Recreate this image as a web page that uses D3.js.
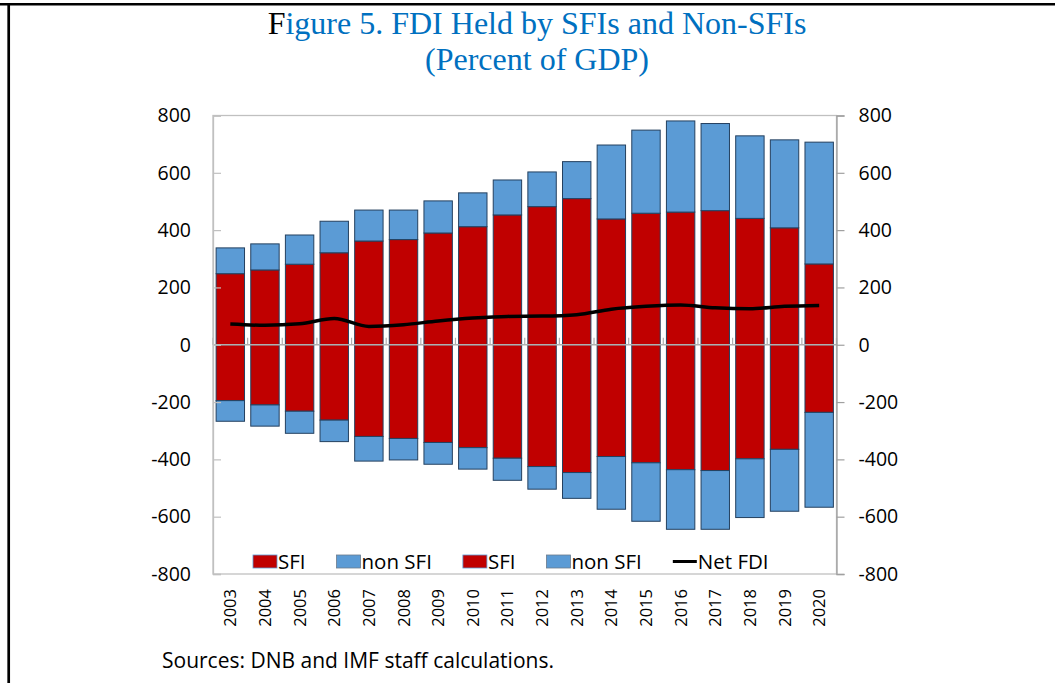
<!DOCTYPE html>
<html>
<head>
<meta charset="utf-8">
<script src="https://d3js.org/d3.v7.min.js"></script>
<style>
body { margin: 0; background: #fff; }
text { font-family: "Open Sans", "Noto Sans", sans-serif; fill: #000; }
</style>
</head>
<body>
<svg id="chart" width="1055" height="683"></svg>
<script>
// values (percent of GDP)
var years = ["2003","2004","2005","2006","2007","2008","2009","2010","2011","2012","2013","2014","2015","2016","2017","2018","2019","2020"];
var sfiAssets    = [248, 261, 281, 321, 362, 367, 390, 412, 453, 482, 510, 439, 459, 463, 468, 441, 408, 282];
var nonSfiAssets = [90, 91, 102, 110, 108, 103, 112, 118, 122, 121, 129, 258, 290, 318, 304, 288, 307, 425];
var sfiLiab      = [-195, -210, -232, -263, -320, -327, -341, -359, -396, -425, -446, -390, -412, -436, -439, -398, -365, -236];
var nonSfiLiab   = [-72, -74, -77, -75, -86, -75, -76, -75, -77, -79, -90, -184, -204, -208, -205, -205, -216, -331];
var netFdi       = [72, 68, 73, 92, 64, 70, 83, 93, 99, 100, 105, 124, 134, 139, 129, 126, 134, 137];
var yTicks = [-800, -600, -400, -200, 0, 200, 400, 600, 800];

var RED = "#c00000", BLUE = "#5b9bd5";

var svg = d3.select("#chart");
var L = 213, R = 836.5, T = 115.5, B = 574;

var x = d3.scaleBand().domain(years).range([L, R]).paddingInner(0.18).paddingOuter(0.09);
var xb = d3.scaleBand().domain(years).range([L, R]); // category boundaries
var y = d3.scaleLinear().domain([-800, 800]).range([B, T]);

// frame of the figure box
svg.append("line").attr("x1", 0).attr("x2", 1055).attr("y1", 4.3).attr("y2", 4.3)
  .attr("stroke", "#000").attr("stroke-width", 2.5);
svg.append("line").attr("x1", 8.7).attr("x2", 8.7).attr("y1", 3).attr("y2", 683)
  .attr("stroke", "#000").attr("stroke-width", 2.7);

// title
svg.append("text").attr("x", 537).attr("y", 34).attr("text-anchor", "middle")
  .style("font-family", "'Liberation Serif', 'Times New Roman', serif").style("font-size", "32px")
  .html('<tspan fill="#000">F</tspan><tspan fill="#0070c0">igure 5. FDI Held by SFIs and Non-SFIs</tspan>');
svg.append("text").attr("x", 537).attr("y", 70).attr("text-anchor", "middle")
  .style("font-family", "'Liberation Serif', 'Times New Roman', serif").style("font-size", "32px")
  .style("fill", "#0070c0").text("(Percent of GDP)");

// plot area border
svg.append("rect").attr("x", L).attr("y", T).attr("width", R - L).attr("height", B - T)
  .attr("fill", "none").attr("stroke", "#c0c0c0").attr("stroke-width", 1.3);

// stacked bars
var stacks = [
  {base: function(i) { return 0; }, vals: sfiAssets, fill: RED},
  {base: function(i) { return sfiAssets[i]; }, vals: nonSfiAssets, fill: BLUE},
  {base: function(i) { return 0; }, vals: sfiLiab, fill: RED},
  {base: function(i) { return sfiLiab[i]; }, vals: nonSfiLiab, fill: BLUE}
];
stacks.forEach(function(s) {
  svg.append("g").selectAll("rect").data(s.vals).enter().append("rect")
    .attr("x", function(d, i) { return x(years[i]); })
    .attr("width", x.bandwidth())
    .attr("y", function(d, i) { return Math.min(y(s.base(i)), y(s.base(i) + d)); })
    .attr("height", function(d, i) { return Math.abs(y(s.base(i)) - y(s.base(i) + d)); })
    .attr("fill", s.fill)
    .attr("stroke", "#24405f").attr("stroke-width", 1);
});

// zero axis with category ticks
svg.append("line").attr("x1", L).attr("x2", R).attr("y1", y(0)).attr("y2", y(0))
  .attr("stroke", "#b0b0b0").attr("stroke-width", 1.5);
svg.append("g").selectAll("line").data(years.concat(["end"])).enter().append("line")
  .attr("x1", function(d, i) { return i < years.length ? xb(d) : R; })
  .attr("x2", function(d, i) { return i < years.length ? xb(d) : R; })
  .attr("y1", y(0)).attr("y2", y(0) - 7)
  .attr("stroke", "#b0b0b0").attr("stroke-width", 1.2);

// net FDI line
var line = d3.line()
  .x(function(d, i) { return x(years[i]) + x.bandwidth() / 2; })
  .y(function(d) { return y(d); })
  .curve(d3.curveMonotoneX);
svg.append("path").datum(netFdi).attr("d", line)
  .attr("fill", "none").attr("stroke", "#000").attr("stroke-width", 3.5);

var fmt = function(d) { return String(d); }; // plain hyphen minus as in the figure

// left axis: ticks inward
var yl = svg.append("g").attr("transform", "translate(" + L + ",0)")
  .call(d3.axisLeft(y).tickValues(yTicks).tickSize(-8).tickPadding(22).tickFormat(fmt));
yl.select(".domain").attr("stroke", "#c0c0c0").attr("stroke-width", 1.3);
yl.selectAll(".tick line").attr("stroke", "#c0c0c0").attr("stroke-width", 1.2);
yl.selectAll("text").style("font-size", "19.5px").style("font-family", null).attr("fill", "#000");

// right axis: ticks outward
var yr = svg.append("g").attr("transform", "translate(" + R + ",0)")
  .call(d3.axisRight(y).tickValues(yTicks).tickSize(8).tickPadding(14).tickFormat(fmt));
yr.select(".domain").attr("stroke", "#a0a0a0").attr("stroke-width", 1.3);
yr.selectAll(".tick line").attr("stroke", "#a0a0a0").attr("stroke-width", 1.2);
yr.selectAll("text").style("font-size", "19.5px").style("font-family", null).attr("fill", "#000");

// year labels, rotated
svg.append("g").selectAll("text").data(years).enter().append("text")
  .attr("transform", function(d) { return "translate(" + (x(d) + x.bandwidth() / 2 + 6) + ",589) rotate(-90)"; })
  .attr("text-anchor", "end")
  .style("font-size", "16.5px")
  .text(function(d) { return d; });

// legend inside the plot
var legendItems = [
  {label: "SFI", fill: RED},
  {label: "non SFI", fill: BLUE},
  {label: "SFI", fill: RED},
  {label: "non SFI", fill: BLUE},
  {label: "Net FDI", line: true}
];
var lx = 253, ly = 561.5;
legendItems.forEach(function(it) {
  if (it.line) {
    svg.append("line").attr("x1", lx).attr("x2", lx + 24).attr("y1", ly).attr("y2", ly)
      .attr("stroke", "#000").attr("stroke-width", 3);
  } else {
    svg.append("rect").attr("x", lx).attr("y", ly - 6.5).attr("width", 24).attr("height", 13)
      .attr("fill", it.fill).attr("stroke", it.fill === RED ? "#5b9bd5" : "#6b7b8b").attr("stroke-width", 0.8);
  }
  var t = svg.append("text").attr("x", lx + 25).attr("y", ly + 7).style("font-size", "20.5px").text(it.label);
  lx += 25 + t.node().getComputedTextLength() + 31;
});

// source note
svg.append("text").attr("x", 162).attr("y", 668).style("font-size", "21px")
  .text("Sources: DNB and IMF staff calculations.");
</script>
</body>
</html>
